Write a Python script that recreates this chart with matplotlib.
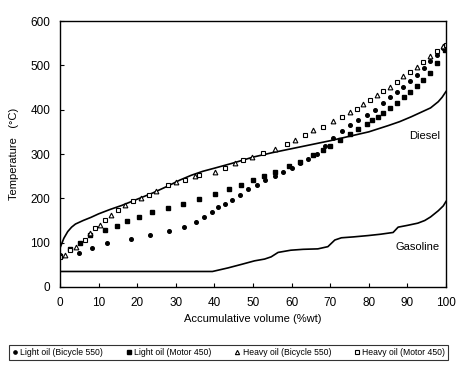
import matplotlib
matplotlib.use("Agg")
import matplotlib.pyplot as plt
from matplotlib import font_manager

# Distillation curves: temperature vs accumulative volume
light_bicycle_x = [0, 4.9, 8.4, 12.3, 18.3, 23.3, 28.3, 32.2, 35.2, 37.3, 39.3, 41.0, 42.7, 44.5,
                   46.6, 48.8, 51.0, 53.1, 55.7, 57.9, 60.0, 62.2, 64.3, 66.5, 68.6, 70.8, 73.0,
                   75.1, 77.3, 79.5, 81.6, 83.7, 85.5, 87.3, 88.9, 90.6, 92.4, 94.2, 95.9, 97.6, 99.3]
light_bicycle_y = [72, 76, 89, 100, 108, 117, 127, 136, 147, 159, 170, 180, 188, 196,
                   208, 221, 230, 241, 251, 260, 268, 279, 288, 300, 318, 336, 352,
                   365, 376, 387, 400, 414, 428, 440, 452, 465, 479, 494, 509, 524, 539]

light_motor_x = [0, 2.6, 5.2, 7.8, 11.7, 14.8, 17.3, 20.5, 23.8, 27.9, 31.9, 36.0, 40.1, 43.8,
                 47.0, 49.9, 52.8, 55.7, 59.4, 62.3, 65.6, 68.2, 69.9, 72.5, 75.1, 77.3, 79.5,
                 80.9, 82.4, 83.8, 85.5, 87.2, 89.0, 90.7, 92.4, 94.1, 95.9, 97.6, 99.7]
light_motor_y = [70, 85, 100, 117, 129, 138, 149, 159, 169, 179, 188, 198, 209, 221,
                 230, 241, 251, 260, 272, 281, 298, 309, 317, 332, 345, 357, 368,
                 376, 384, 393, 404, 416, 428, 440, 453, 466, 482, 505, 535]

heavy_bicycle_x = [0, 1.2, 4.2, 7.7, 10.3, 13.3, 16.8, 21.0, 25.0, 30.0, 35.0, 40.2, 45.3, 49.7,
                   55.7, 60.9, 65.6, 70.8, 75.1, 78.6, 82.0, 85.5, 88.9, 92.4, 95.9, 99.3]
heavy_bicycle_y = [70, 72, 91, 121, 140, 163, 185, 200, 216, 236, 251, 260, 279, 294,
                   311, 332, 354, 374, 395, 413, 433, 452, 475, 497, 520, 544]

heavy_motor_x = [0, 2.5, 6.4, 9.0, 11.6, 15.0, 19.0, 23.0, 28.0, 32.4, 36.1, 42.7, 47.5, 52.7,
                 58.7, 63.5, 68.2, 73.0, 76.9, 80.3, 83.8, 87.2, 90.7, 94.1, 97.6, 100]
heavy_motor_y = [68, 84, 106, 132, 151, 174, 193, 208, 230, 241, 253, 269, 286, 303,
                 322, 343, 360, 383, 402, 422, 442, 463, 486, 508, 532, 546]

diesel_x = [0, 1, 2, 3, 4, 6, 8, 10, 13, 16, 20, 24, 28, 31, 34, 37, 40, 45, 50, 55, 60,
            65, 70, 75, 80, 85, 88, 91, 94, 96, 98, 99, 100]
diesel_y = [88, 110, 125, 135, 142, 150, 157, 165, 175, 184, 198, 212, 228, 241, 252, 261, 268,
            280, 293, 303, 312, 321, 330, 340, 350, 364, 373, 384, 396, 404, 418, 428, 441]

gasoline_x = [0, 39.5, 43.5, 47, 50.4, 53, 54.7, 56.5, 59.8, 63, 66.8, 69.4, 71.2, 72.9, 76,
              79.8, 83, 86.3, 87.6, 90, 92.7, 94.5, 96, 98, 99.3, 100]
gasoline_y = [35, 35, 43, 51, 59, 63, 68, 78, 83, 85, 86, 91, 106, 111, 113,
              116, 119, 123, 135, 139, 144, 150, 158, 172, 183, 193]

series_labels = ["Light oil (Bicycle 550)", "Light oil (Motor 450)",
                 "Heavy oil (Bicycle 550)", "Heavy oil (Motor 450)"]
x_ticks = list(range(0, 101, 10))
y_ticks = list(range(0, 601, 100))

available = {f.name for f in font_manager.fontManager.ttflist}
narrow = "Liberation Sans Narrow" if "Liberation Sans Narrow" in available else "Liberation Sans"
plt.rcParams["font.family"] = [narrow, "DejaVu Sans"]

fig = plt.figure(figsize=(4.57, 3.72), dpi=100)
ax = fig.add_axes([0.1313, 0.2285, 0.8446, 0.7150])

ax.plot(diesel_x, diesel_y, color="black", lw=1.2)
ax.plot(gasoline_x, gasoline_y, color="black", lw=1.2)

ax.plot(light_bicycle_x, light_bicycle_y, ls="none", marker="o", ms=2.6,
        mfc="black", mec="black", label=series_labels[0])
ax.plot(light_motor_x, light_motor_y, ls="none", marker="s", ms=3.0,
        mfc="black", mec="black", label=series_labels[1])
ax.plot(heavy_bicycle_x, heavy_bicycle_y, ls="none", marker="^", ms=3.4,
        mfc="white", mec="black", mew=0.8, label=series_labels[2])
ax.plot(heavy_motor_x, heavy_motor_y, ls="none", marker="s", ms=3.2,
        mfc="white", mec="black", mew=0.8, label=series_labels[3])

ax.text(94.5, 341, "Diesel", ha="center", va="center", fontsize=8)
ax.text(92.7, 90, "Gasoline", ha="center", va="center", fontsize=8)

ax.set_xlim(0, 100)
ax.set_ylim(0, 600)
ax.set_xticks(x_ticks)
ax.set_yticks(y_ticks)
ax.tick_params(direction="in", length=3, width=0.8, labelsize=8.5, pad=7)
for s in ax.spines.values():
    s.set_linewidth(1.0)
ax.set_xlabel("Accumulative volume (%wt)", fontsize=8, labelpad=4)
ax.set_ylabel("Temperature   (°C)", fontsize=8, labelpad=8)

leg = fig.legend(loc="center", bbox_to_anchor=(0.5, 0.052), ncol=4, fontsize=6.2,
                 frameon=True, fancybox=False, edgecolor="black", handlelength=0.7,
                 handletextpad=0.3, columnspacing=2.6, borderpad=0.35, markerscale=0.9)
leg.get_frame().set_linewidth(0.8)

fig.savefig("out.png", dpi=100)
